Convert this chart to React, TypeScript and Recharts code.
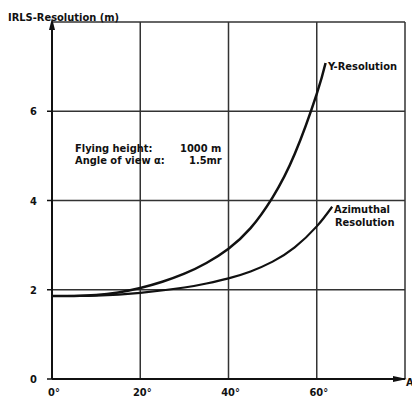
import React from "react";
import { LineChart, Line, XAxis, YAxis, CartesianGrid, ReferenceDot } from "recharts";

const yResAngles = [0, 5, 10, 15, 20, 25, 30, 35, 40, 45, 50, 55, 60, 62];
const yResValues = [1.86, 1.86, 1.88, 1.94, 2.04, 2.18, 2.36, 2.6, 2.92, 3.38, 4.07, 5.04, 6.39, 7.08];
const azAngles = [0, 10, 20, 30, 35, 40, 45, 50, 55, 60, 63.5];
const azValues = [1.86, 1.87, 1.93, 2.05, 2.14, 2.255, 2.41, 2.63, 2.95, 3.42, 3.86];
const xTicks = [0, 20, 40, 60];
const yTicks = [0, 2, 4, 6];

const yResData = yResAngles.map((x, i) => ({ x, v: yResValues[i] }));
const azData = azAngles.map((x, i) => ({ x, v: azValues[i] }));

const FONT = "'DejaVu Sans Condensed', 'Liberation Sans Narrow', 'DejaVu Sans', sans-serif";

const XTick = (props: any) => {
  const { x, y, payload } = props;
  return (
    <text x={x + 2} y={y + 9} textAnchor="middle" fontFamily={FONT} fontWeight="bold" fontSize={11} fill="#111">
      {payload.value}°
    </text>
  );
};

const YTick = (props: any) => {
  const { x, y, payload } = props;
  return (
    <text x={x - 8} y={y + 4} textAnchor="end" fontFamily={FONT} fontWeight="bold" fontSize={11} fill="#111">
      {payload.value}
    </text>
  );
};

const UpArrow = (props: any) => {
  const { cx, cy } = props;
  return <polygon points={`${cx},${cy - 4} ${cx - 3},${cy + 8} ${cx + 3},${cy + 8}`} fill="#111" />;
};
const RightArrow = (props: any) => {
  const { cx, cy } = props;
  return <polygon points={`${cx + 2},${cy} ${cx - 12},${cy - 3} ${cx - 12},${cy + 3}`} fill="#111" />;
};

export default function App() {
  return (
    <div style={{ position: "absolute", left: 0, top: 0, width: 412, height: 398, background: "#fff" }}>
      <LineChart width={412} height={398} margin={{ top: 22, right: 7, bottom: 0, left: 0 }}>
        <CartesianGrid stroke="#333" strokeWidth={1.5} />
        <XAxis
          dataKey="x"
          type="number"
          domain={[0, 80]}
          ticks={xTicks}
          height={19}
          axisLine={{ stroke: "#111", strokeWidth: 2 }}
          tickLine={false}
          tick={<XTick />}
          allowDuplicatedCategory={false}
        />
        <YAxis
          dataKey="v"
          type="number"
          domain={[0, 8]}
          ticks={yTicks}
          width={52}
          axisLine={{ stroke: "#111", strokeWidth: 2 }}
          tickLine={{ stroke: "#111", strokeWidth: 1.5 }}
          tickSize={5}
          tick={<YTick />}
        />
        <Line data={yResData} dataKey="v" type="natural" stroke="#111" strokeWidth={2.5} dot={false} isAnimationActive={false} />
        <Line data={azData} dataKey="v" type="natural" stroke="#111" strokeWidth={2.2} dot={false} isAnimationActive={false} />
        <ReferenceDot x={0} y={8} r={0} shape={<UpArrow />} ifOverflow="visible" />
        <ReferenceDot x={80} y={0} r={0} shape={<RightArrow />} ifOverflow="visible" />
      </LineChart>
      <svg width={412} height={398} style={{ position: "absolute", left: 0, top: 0, pointerEvents: "none" }}>
        <g fontFamily={FONT} fontWeight="bold" fill="#111">
          <text x={8} y={21} fontSize={11}>IRLS-Resolution (m)</text>
          <text x={406} y={386} fontSize={11}>A</text>
          <text x={75} y={152} fontSize={11}>Flying height:</text>
          <text x={180} y={152} fontSize={11}>1000 m</text>
          <text x={75} y={164} fontSize={11}>Angle of view α:</text>
          <text x={189} y={164} fontSize={11}>1.5mr</text>
          <text x={328} y={70} fontSize={11}>Y-Resolution</text>
          <text x={334} y={213} fontSize={11}>Azimuthal</text>
          <text x={335} y={226} fontSize={11}>Resolution</text>
        </g>
      </svg>
    </div>
  );
}
